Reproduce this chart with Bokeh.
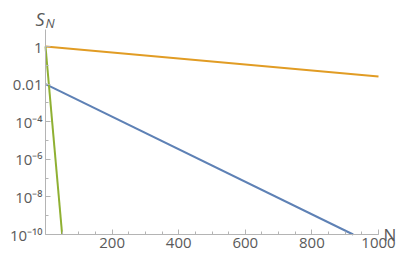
from bokeh.plotting import figure
from bokeh.models import FixedTicker, Range1d, Label
from bokeh.embed import file_html
from bokeh.resources import INLINE

# ---- data ----
orange_n = [0, 1000]
orange_s = [1.0, 0.025]
blue_n = [0, 924]
blue_s = [0.01, 1e-10]
green_n = [0, 50]
green_s = [1.0, 1e-10]

x_major = [200, 400, 600, 800, 1000]
x_minor = [50 * i for i in range(1, 21)]
y_major = [1e-10, 1e-8, 1e-6, 1e-4, 1e-2, 1.0]
y_minor = [1e-10, 1e-9, 1e-8, 1e-7, 1e-6, 1e-5, 1e-4, 1e-3, 1e-2, 1e-1, 1.0]
y_labels = ["10⁻¹⁰", "10⁻⁸", "10⁻⁶", "10⁻⁴", "0.01", "1"]

x_axis_span = (0, 1000)
y_axis_span = (1e-10, 10 ** 0.93)

FONT = "Open Sans"
GRAY_TXT = "#5a5a5a"
GRAY_AX = "#b4b4b4"

W, H = 399, 252
# pixel layout (inside the canvas) of the axes, as in the reference
px_x0, px_x1 = 45, 378      # N = 0 and N = 1000
px_y0, px_dec = 234, 18.8   # y of 1e-10, pixels per decade
ux = (x_axis_span[1] - x_axis_span[0]) / (px_x1 - px_x0)
x_lo = x_axis_span[0] - px_x0 * ux
x_hi = x_axis_span[0] + (W - px_x0) * ux
y_lo = 10 ** (-10 - (H - px_y0) / px_dec)
y_hi = 10 ** (-10 + px_y0 / px_dec)

p = figure(output_backend="svg", toolbar_location=None,
           y_axis_type="log", width=W, height=H,
           x_range=Range1d(x_lo, x_hi), y_range=Range1d(y_lo, y_hi),
           min_border=0)
p.title.visible = False
p.outline_line_color = None
p.xgrid.visible = False
p.ygrid.visible = False
p.background_fill_color = "white"
p.border_fill_color = "white"

p.line(orange_n, orange_s, line_color="#E19C24", line_width=2)
p.line(blue_n, blue_s, line_color="#5E81B5", line_width=2)
p.line(green_n, green_s, line_color="#8FB032", line_width=2)

xa, ya = p.xaxis[0], p.yaxis[0]
for ax in (xa, ya):
    ax.axis_line_color = GRAY_AX
    ax.major_tick_line_color = GRAY_AX
    ax.minor_tick_line_color = GRAY_AX
    ax.major_tick_in = 5
    ax.major_tick_out = 0
    ax.minor_tick_in = 3
    ax.minor_tick_out = 0
    ax.major_label_text_font = FONT
    ax.major_label_text_font_size = "15px"
    ax.major_label_text_color = GRAY_TXT
    ax.major_label_standoff = 3

xa.fixed_location = y_axis_span[0]
xa.bounds = x_axis_span
ya.fixed_location = x_axis_span[0]
ya.bounds = y_axis_span

xa.ticker = FixedTicker(ticks=x_major, minor_ticks=x_minor)
ya.ticker = FixedTicker(ticks=y_major, minor_ticks=y_minor)
ya.major_label_overrides = {v: t for v, t in zip(y_major, y_labels)}

p.add_layout(Label(x=x_axis_span[0], y=y_axis_span[1], text="S", text_font=FONT,
                   text_font_style="italic", text_font_size="18px", text_color=GRAY_TXT,
                   text_align="right", text_baseline="alphabetic", x_offset=-1, y_offset=10))
p.add_layout(Label(x=x_axis_span[0], y=y_axis_span[1], text="N", text_font=FONT,
                   text_font_style="italic", text_font_size="13px", text_color=GRAY_TXT,
                   text_align="left", text_baseline="alphabetic", x_offset=0, y_offset=6))
p.add_layout(Label(x=x_axis_span[1], y=y_axis_span[0], text="N", text_font=FONT,
                   text_font_size="17px", text_color=GRAY_TXT,
                   text_align="left", text_baseline="middle", x_offset=5, y_offset=0))

open("out.html", "w").write(file_html(p, INLINE))
